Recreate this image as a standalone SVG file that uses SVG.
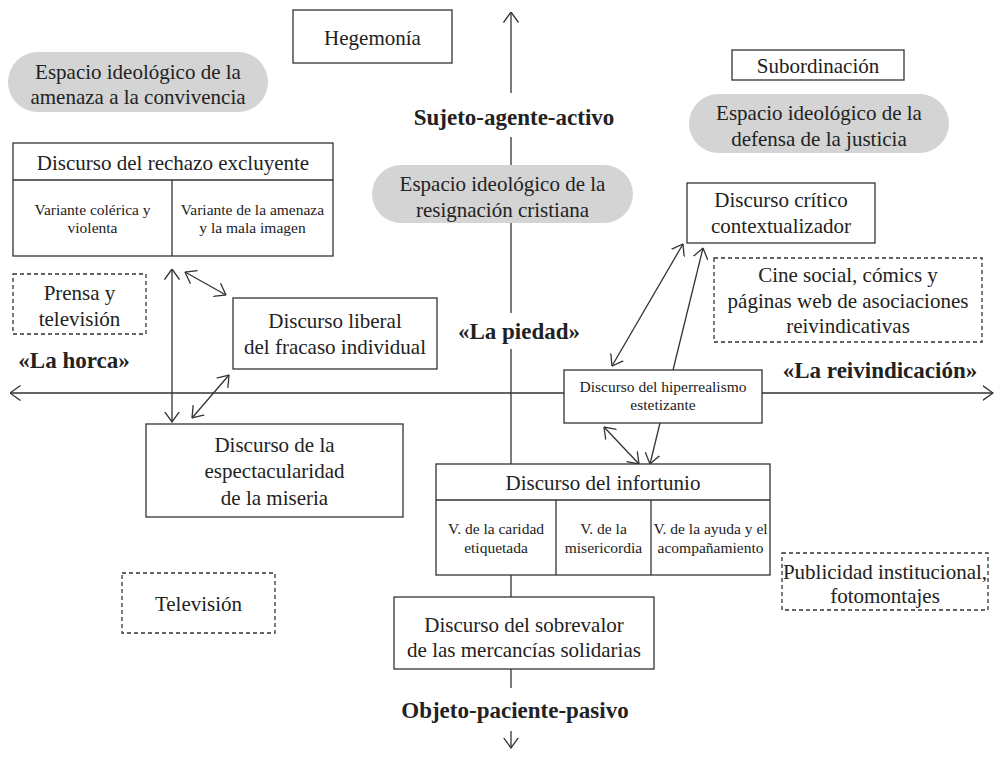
<svg xmlns="http://www.w3.org/2000/svg" width="1001" height="757" viewBox="0 0 1001 757">
<style>
  text { font-family: "Liberation Serif", "Times New Roman", serif; fill: #222; text-anchor: middle; }
  .t { font-size: 21px; }
  .s { font-size: 15.5px; }
  .b { font-size: 23px; font-weight: bold; }
  .box { fill: #fff; stroke: #333; stroke-width: 1.3; }
  .dash { fill: #fff; stroke: #333; stroke-width: 1.3; stroke-dasharray: 4 3; }
  .pill { fill: #d4d4d4; stroke: none; }
  .ln { stroke: #333; stroke-width: 1.3; fill: none; }
  .ar { stroke: #333; stroke-width: 1.3; fill: none; marker-end: url(#ah); }
  .dar { stroke: #333; stroke-width: 1.3; fill: none; marker-end: url(#ah); marker-start: url(#ah); }
</style>
<defs>
  <marker id="ah" viewBox="0 0 11 16" refX="10.5" refY="8" markerWidth="11" markerHeight="16" markerUnits="userSpaceOnUse" orient="auto-start-reverse">
    <path d="M0,0.5 L10.5,8 L0,15.5" fill="none" stroke="#333" stroke-width="1.3"/>
  </marker>
</defs>
<rect width="1001" height="757" fill="#fff"/>

<g id="connectors">
  <!-- vertical axis -->
  <line class="ar" x1="511" y1="93" x2="511" y2="12"/>
  <line class="ln" x1="511" y1="137" x2="511" y2="313"/>
  <line class="ln" x1="511" y1="349" x2="511" y2="688"/>
  <line class="ar" x1="511" y1="731" x2="511" y2="748"/>
  <!-- horizontal axis -->
  <line class="dar" x1="10" y1="393" x2="993" y2="393"/>
  <!-- left cluster -->
  <line class="dar" x1="172" y1="269" x2="172" y2="422"/>
  <line class="dar" x1="185" y1="272" x2="226" y2="295"/>
  <line class="dar" x1="192" y1="418" x2="229" y2="375"/>
  <!-- right cluster -->
  <line class="dar" x1="612" y1="366" x2="683" y2="244"/>
  <line class="ar" x1="673" y1="370" x2="703" y2="248"/>
  <line class="dar" x1="604" y1="427" x2="639" y2="464"/>
  <line class="ar" x1="660" y1="423" x2="650" y2="464"/>
</g>

<g id="axis-labels">
  <text class="b" x="514" y="125">Sujeto-agente-activo</text>
  <text class="b" x="519" y="339">«La piedad»</text>
  <text class="b" x="74" y="368">«La horca»</text>
  <text class="b" x="880" y="378">«La reivindicación»</text>
  <text class="b" x="515" y="718">Objeto-paciente-pasivo</text>
</g>

<g id="hegemonia">
  <rect class="box" x="293" y="10" width="159" height="53"/>
  <text class="t" x="372.5" y="45">Hegemonía</text>
</g>

<g id="subordinacion">
  <rect class="box" x="732" y="50" width="172" height="30"/>
  <text class="t" x="818" y="73">Subordinación</text>
</g>

<g id="espacio-amenaza">
  <rect class="pill" x="8" y="52" width="260" height="60" rx="30"/>
  <text class="t" x="138" y="79">Espacio ideológico de la</text>
  <text class="t" x="138" y="104">amenaza a la convivencia</text>
</g>

<g id="espacio-justicia">
  <rect class="pill" x="689" y="94" width="260" height="59" rx="29.5"/>
  <text class="t" x="819" y="120">Espacio ideológico de la</text>
  <text class="t" x="819" y="146">defensa de la justicia</text>
</g>

<g id="espacio-resignacion">
  <rect class="pill" x="372" y="165" width="261" height="58" rx="29"/>
  <text class="t" x="502.5" y="191">Espacio ideológico de la</text>
  <text class="t" x="502.5" y="217">resignación cristiana</text>
</g>

<g id="rechazo">
  <rect class="box" x="13" y="143" width="320" height="113"/>
  <line class="ln" x1="13" y1="180" x2="333" y2="180"/>
  <line class="ln" x1="172" y1="180" x2="172" y2="256"/>
  <text class="t" x="173" y="170">Discurso del rechazo excluyente</text>
  <text class="s" x="92.5" y="215">Variante colérica y</text>
  <text class="s" x="92.5" y="233">violenta</text>
  <text class="s" x="252.5" y="215">Variante de la amenaza</text>
  <text class="s" x="252.5" y="233">y la mala imagen</text>
</g>

<g id="critico">
  <rect class="box" x="687" y="183" width="188" height="60"/>
  <text class="t" x="781" y="207">Discurso crítico</text>
  <text class="t" x="781" y="233">contextualizador</text>
</g>

<g id="prensa">
  <rect class="dash" x="13" y="274" width="133" height="60"/>
  <text class="t" x="79.5" y="300">Prensa y</text>
  <text class="t" x="79.5" y="326">televisión</text>
</g>

<g id="cine">
  <rect class="dash" x="714" y="258" width="268" height="84"/>
  <text class="t" x="848" y="282">Cine social, cómics y</text>
  <text class="t" x="848" y="308">páginas web de asociaciones</text>
  <text class="t" x="848" y="333">reivindicativas</text>
</g>

<g id="liberal">
  <rect class="box" x="233" y="298" width="204" height="71"/>
  <text class="t" x="335" y="328">Discurso liberal</text>
  <text class="t" x="335" y="354">del fracaso individual</text>
</g>

<g id="hiperrealismo">
  <rect class="box" x="564" y="370" width="198" height="53"/>
  <text class="s" x="663" y="392">Discurso del hiperrealismo</text>
  <text class="s" x="663" y="410">estetizante</text>
</g>

<g id="espectacularidad">
  <rect class="box" x="146" y="424" width="257" height="93"/>
  <text class="t" x="274.5" y="452">Discurso de la</text>
  <text class="t" x="274.5" y="478">espectacularidad</text>
  <text class="t" x="274.5" y="505">de la miseria</text>
</g>

<g id="infortunio">
  <rect class="box" x="436" y="464" width="334" height="111"/>
  <line class="ln" x1="436" y1="500" x2="770" y2="500"/>
  <line class="ln" x1="556" y1="500" x2="556" y2="575"/>
  <line class="ln" x1="651" y1="500" x2="651" y2="575"/>
  <text class="t" x="603" y="490">Discurso del infortunio</text>
  <text class="s" x="496" y="534">V. de la caridad</text>
  <text class="s" x="496" y="553">etiquetada</text>
  <text class="s" x="603.5" y="534">V. de la</text>
  <text class="s" x="603.5" y="553">misericordia</text>
  <text class="s" x="710.5" y="534">V. de la ayuda y el</text>
  <text class="s" x="710.5" y="553">acompañamiento</text>
</g>

<g id="publicidad">
  <rect class="dash" x="782" y="553" width="206" height="57"/>
  <text class="t" x="885" y="579">Publicidad institucional,</text>
  <text class="t" x="885" y="603">fotomontajes</text>
</g>

<g id="television">
  <rect class="dash" x="122" y="573" width="153" height="60"/>
  <text class="t" x="198.5" y="611">Televisión</text>
</g>

<g id="sobrevalor">
  <rect class="box" x="394" y="597" width="260" height="72"/>
  <text class="t" x="524" y="632">Discurso del sobrevalor</text>
  <text class="t" x="524" y="657">de las mercancías solidarias</text>
</g>
</svg>
